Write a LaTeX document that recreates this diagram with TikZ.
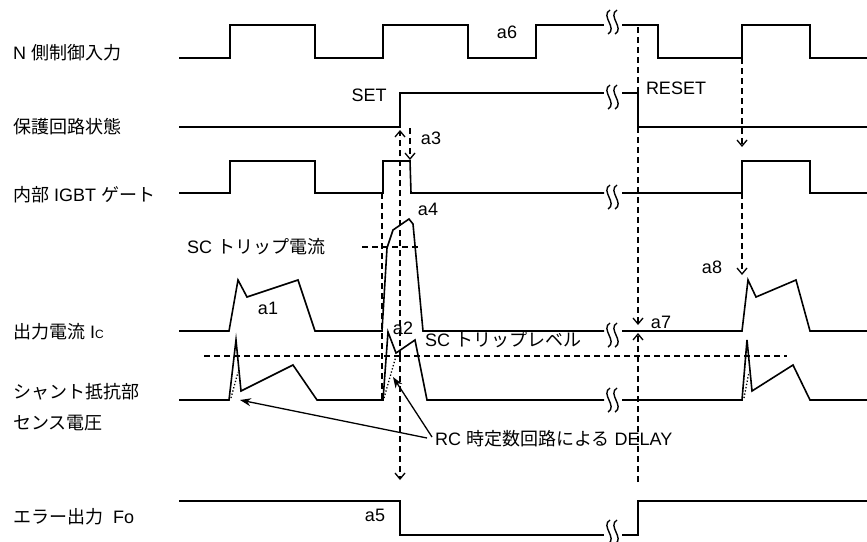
\documentclass[tikz,border=0pt]{standalone}
\usepackage{fontspec}
\setmainfont{Liberation Sans}
\newfontfamily\cjkfont{Noto Sans CJK JP}
\usetikzlibrary{arrows.meta}
\newcommand\jp[1]{{\cjkfont\fontsize{18}{20}\selectfont #1}}
\begin{document}
\begin{tikzpicture}[x=1pt,y=-1pt,
  sig/.style={line width=1.6pt,line join=miter},
  dsh/.style={line width=1.3pt,dash pattern=on 6pt off 4pt},
  darr/.style={dsh,-{Straight Barb[length=6pt,width=10pt,line width=1.3pt]}},
  rcarr/.style={line width=1.3pt,-{Stealth[length=11pt,width=8pt]}},
  dot/.style={line width=1.3pt,dotted},
  lbl/.style={font=\fontsize{18}{20}\selectfont,anchor=west,inner sep=0pt},
  txt/.style={font=\fontsize{18}{20}\selectfont,inner sep=0pt},
  brk/.pic={\draw[line width=1.4pt] (-2,-12) .. controls (-12,-6) and (6,6) .. (-4,12);
            \draw[line width=1.4pt] (5,-12) .. controls (-5,-6) and (13,6) .. (3,12);}]
\useasboundingbox (0,0) rectangle (867,541);
% labels
\node[lbl] (l1) at (13,53) {N \jp{側制御入力}};
\node[lbl] (l2) at (13,127) {\jp{保護回路状態}};
\node[lbl] (l3) at (13,195) {\jp{内部} IGBT \jp{ゲート}};
\node[lbl] (l4) at (13,332) {\jp{出力電流} I{\fontsize{12}{12}\selectfont C}};
\node[lbl] (l5a) at (13,392) {\jp{シャント抵抗部}};
\node[lbl] (l5b) at (13,423) {\jp{センス電圧}};
\node[lbl] (l6) at (13,517) {\jp{エラー出力}\ \ Fo};
\node[txt] (set) at (369,95) {SET};
\node[txt] (reset) at (676,88) {RESET};
\node[txt] (a6) at (507,32) {a6};
\node[txt] (a3) at (431,138) {a3};
\node[txt] (a4) at (428,209) {a4};
\node[lbl] (sct) at (187,247) {SC \jp{トリップ電流}};
\node[txt] (a1) at (268,308) {a1};
\node[txt] (a2) at (403,328) {a2};
\node[lbl] (scl) at (425,340) {SC \jp{トリップレベル}};
\node[txt] (a7) at (661,322) {a7};
\node[txt] (a8) at (712,267) {a8};
\node[txt] (a5) at (375,515) {a5};
\node[lbl] (rc) at (435,439) {RC \jp{時定数回路による} DELAY};
% row 1
\draw[sig] (179,58) -- (230,58) -- (230,25) -- (315,25) -- (315,58) -- (383,58) -- (383,25) -- (468,25) -- (468,58) -- (536,58) -- (536,25) -- (604,25);
\draw[sig] (622,25) -- (658,25) -- (658,58) -- (742,58) -- (742,25) -- (810,25) -- (810,58) -- (867,58);
% row 2
\draw[sig] (179,127) -- (400,127) -- (400,93) -- (604,93);
\draw[sig] (622,93) -- (638,93) -- (638,127) -- (867,127);
% row 3
\draw[sig] (179,193) -- (230,193) -- (230,161) -- (315,161) -- (315,193) -- (383,193) -- (383,161) -- (410,161) -- (411,193) -- (604,193);
\draw[sig] (622,193) -- (742,193) -- (742,161) -- (810,161) -- (810,193) -- (867,193);
% row 4
\draw[sig] (179,331) -- (229,331) -- (238,280) -- (247,297) -- (298,280) -- (315,331) -- (382,331) -- (387,248) -- (393,230) -- (409,219) -- (413,224) -- (423,331) -- (604,331);
\draw[sig] (622,331) -- (742,331) -- (748,280) -- (756,297) -- (796,280) -- (810,331) -- (867,331);
% row 5
\draw[sig] (179,400) -- (229,400) -- (236,340) -- (241,391) -- (293,365) -- (317,400) -- (383,400) -- (388,332) -- (396,353) -- (415,340) -- (427,400) -- (604,400);
\draw[sig] (622,400) -- (742,400) -- (747,340) -- (752,391) -- (793,365) -- (810,400) -- (867,400);
\draw[dot] (231,398) -- (238,372);
\draw[dot] (384,398) -- (396,356);
\draw[dot] (744,398) -- (749,372);
% row 6
\draw[sig] (179,501) -- (400,501) -- (400,535) -- (604,535);
\draw[sig] (622,535) -- (638,535) -- (638,501) -- (867,501);
% breaks
\foreach \y in {22,97,197,335,400,532} \pic at (612,\y) {brk};
% dashed lines
\draw[dsh] (362,247) -- (418,247);
\draw[dsh] (204,356) -- (787,356);
\draw[dsh] (382,193) -- (382,400);
\coordinate (trip) at (400,356);
\draw[darr] (trip) -- (400,130);
\draw[darr] (trip) -- (400,480);
\draw[darr] (410,128) -- (410,160);
\draw[darr] (638,27) -- (638,325);
\draw[darr] (638,482) -- (638,333);
\draw[darr] (742,58) -- (742,147);
\draw[darr] (742,193) -- (742,275);
% RC arrows
\draw[rcarr] ([xshift=-8pt,yshift=1pt]rc.west) -- (240,400);
\draw[rcarr] ([xshift=-3pt,yshift=2pt]rc.west) -- (393,377);
\end{tikzpicture}
\end{document}
